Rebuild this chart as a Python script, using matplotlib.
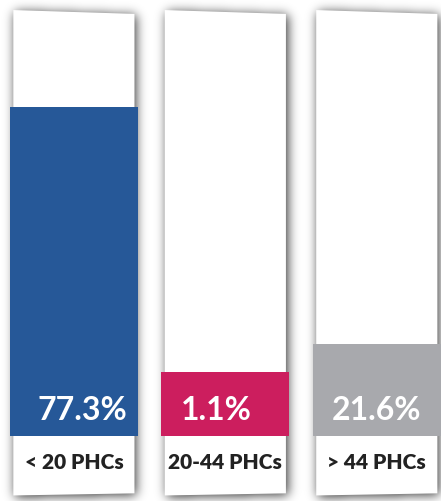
import numpy as np
import matplotlib.pyplot as plt
from matplotlib.patches import Polygon
from matplotlib.path import Path

categories = ["< 20 PHCs", "20-44 PHCs", "> 44 PHCs"]
values = [77.3, 1.1, 21.6]
value_labels = ["77.3%", "1.1%", "21.6%"]
colors = ["#265898", "#cc1e5e", "#a8a9ad"]

plt.rcParams['font.family'] = ['Lato', 'DejaVu Sans']

W, H = 441, 502
fig = plt.figure(figsize=(W / 100, H / 100), dpi=100)
ax = fig.add_axes([0, 0, 1, 1])
xlim = (-0.488, 2.424)
ylim = (-15.3, 102.6)
ax.set_xlim(*xlim)
ax.set_ylim(*ylim)
ax.axis("off")

x = np.arange(len(categories))
card_w = 0.80
card_top, card_bot = 100.0, -14.0


def card_poly(cx):
    half = card_w / 2
    return [(cx - half, card_bot),
            (cx + half, card_bot + 0.5),
            (cx + half, card_top - 0.9),
            (cx - half, card_top)]


# blurred drop shadow, rasterised in pixel space
gx, gy = np.meshgrid(np.arange(W) + 0.5, np.arange(H) + 0.5)
pts = np.column_stack([gx.ravel(), gy.ravel()])
mask = np.zeros(H * W)
for cx in x:
    verts = ax.transData.transform(card_poly(cx))
    verts[:, 1] = H - verts[:, 1]
    verts += [2.0, 1.5]
    mask = np.maximum(mask, Path(verts).contains_points(pts))
mask = mask.reshape(H, W)

sigma = 5.5
k = np.arange(-18, 19)
kern = np.exp(-k ** 2 / (2 * sigma ** 2))
kern /= kern.sum()
blur = np.apply_along_axis(lambda r: np.convolve(r, kern, mode="same"), 1, mask)
blur = np.apply_along_axis(lambda c: np.convolve(c, kern, mode="same"), 0, blur)

shadow = np.zeros((H, W, 4))
shadow[..., 3] = blur * 0.8
ax.imshow(shadow, extent=(xlim[0], xlim[1], ylim[0], ylim[1]),
          aspect="auto", interpolation="bilinear", zorder=1)

for cx in x:
    ax.add_patch(Polygon(card_poly(cx), closed=True, facecolor="white",
                         edgecolor="none", zorder=2))

# keep room for the label inside short bars
bar_h = np.maximum(values, 15)
ax.bar(x, bar_h, width=0.845, color=colors, zorder=3)

label_dx = [0.055, -0.06, 0.0]
for i in range(len(categories)):
    ax.text(x[i] + label_dx[i], 6.3, value_labels[i], color="white",
            fontsize=23, fontweight="bold",
            ha="center", va="center", zorder=4)
    ax.text(x[i], -6.0, categories[i], color="#222222", fontsize=15,
            fontweight="heavy", ha="center", va="center", zorder=4)

fig.savefig("out.png", dpi=100)
